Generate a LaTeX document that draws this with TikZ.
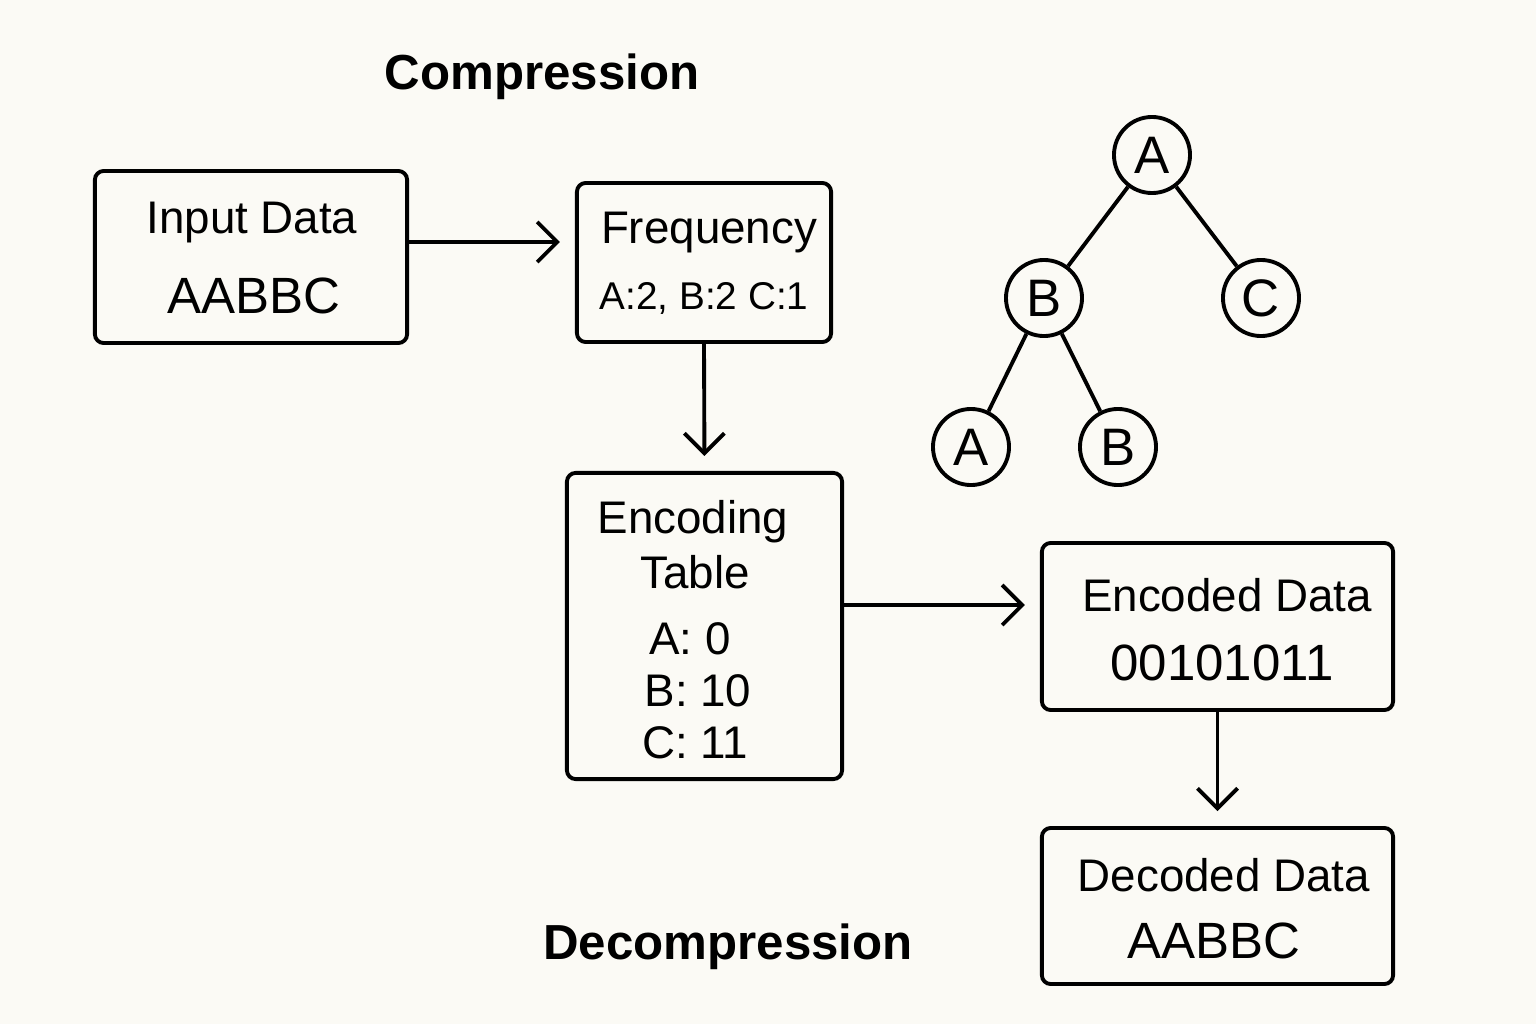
\documentclass[tikz,border=0pt]{standalone}
\usepackage{fontspec}
\setmainfont{Liberation Sans}
\usetikzlibrary{arrows.meta}
\definecolor{paper}{HTML}{FBFAF5}
\tikzset{
  box/.style={draw, line width=1.1pt, rounded corners=2.5pt, inner sep=0pt},
  leaf/.style={draw, circle, line width=1.1pt, minimum size=0.76cm, inner sep=0pt, font=\fontsize{15}{18}\selectfont},
  flow/.style={-{Straight Barb[length=2mm,width=4mm]}, line width=1.1pt, shorten >=0.15cm},
  lbl/.style={font=\fontsize{13}{16}\selectfont},
  big/.style={font=\fontsize{14.5}{18}\selectfont},
  title/.style={font=\bfseries\fontsize{14}{17}\selectfont}
}
\begin{document}
\begin{tikzpicture}[x=0.01cm,y=-0.01cm]
    \fill[paper] (0,0) rectangle (1536,1024);
    \useasboundingbox (0,0) rectangle (1536,1024);
    % titles
    \node[title] (comp) at (542,77) {Compression};
    \node[title] (decomp) at (728,947) {Decompression};
    % boxes
    \node[box, minimum width=3.12cm, minimum height=1.72cm] (input) at (251,257) {};
    \node[lbl] at (252,223) {Input Data};
    \node[big] at (254,296) {AABBC};
    \node[box, minimum width=2.54cm, minimum height=1.59cm] (freq) at (704,262.5) {};
    \node[lbl] at (709,233) {Frequency};
    \node[font=\fontsize{11}{13}\selectfont] at (704,298) {A:2, B:2 C:1};
    \node[box, minimum width=2.75cm, minimum height=3.06cm] (table) at (704.5,626) {};
    \node[lbl] at (693,522) {Encoding};
    \node[lbl] at (695,572) {Table};
    \node[lbl] at (690,639) {A: 0};
    \node[lbl] at (698,691) {B: 10};
    \node[lbl] at (695,743) {C: 11};
    \node[box, minimum width=3.51cm, minimum height=1.67cm] (encoded) at (1217.5,626.5) {};
    \node[lbl] at (1227,595) {Encoded Data};
    \node[big] at (1222,663) {00101011};
    \node[box, minimum width=3.51cm, minimum height=1.56cm] (decoded) at (1217.5,906) {};
    \node[lbl] at (1224,875) {Decoded Data};
    \node[big] at (1214,941) {AABBC};
    % flow arrows
    \coordinate (inout) at (407,242);
    \draw[flow] (inout) -- (inout -| freq.west);
    \draw[flow] (freq.south) -- (table.north);
    \coordinate (tabout) at (842,605);
    \draw[flow] (tabout) -- (tabout -| encoded.west);
    \draw[flow] (encoded.south) -- (decoded.north);
    % tree
    \node[leaf] (root) at (1152,155) {A};
    \node[leaf] (nb) at (1044,298) {B};
    \node[leaf] (nc) at (1261,298) {C};
    \node[leaf] (na2) at (971,447) {A};
    \node[leaf] (nb2) at (1118,447) {B};
    \foreach \a/\b in {root/nb, root/nc, nb/na2, nb/nb2}
        \draw[line width=1.1pt] (\a) -- (\b);
\end{tikzpicture}
\end{document}
